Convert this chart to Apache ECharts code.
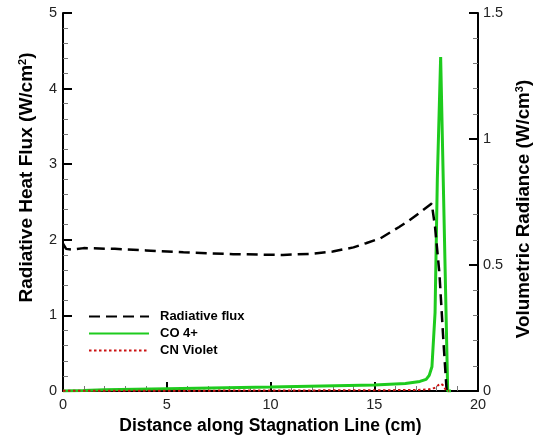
<!DOCTYPE html>
<html>
<head>
<meta charset="utf-8">
<script src="https://cdn.jsdelivr.net/npm/echarts@6/dist/echarts.min.js"></script>
<style>
  html, body { margin: 0; padding: 0; background: #fff; overflow: hidden; }
  #chart { width: 533px; height: 436px; }
</style>
</head>
<body>
<div id="chart"></div>
<script>
// Radiative heat flux along the stagnation line (left axis, W/cm^2)
const fluxX = [0, 0.15, 0.4, 1, 2.5, 4, 5.8, 8.2, 10.6, 12, 13, 14, 14.6, 15.3, 16.2, 16.6, 17.2, 17.77, 17.93, 18.14, 18.33, 18.49];
const fluxY = [1.95, 1.88, 1.87, 1.89, 1.88, 1.86, 1.835, 1.81, 1.80, 1.815, 1.845, 1.90, 1.955, 2.02, 2.17, 2.24, 2.36, 2.48, 2.17, 1.56, 0.675, 0.0];

// CO 4+ volumetric radiance (right axis, W/cm^3)
const coX = [0, 1, 2, 5, 10, 15, 16.5, 17.2, 17.5, 17.65, 17.78, 17.93, 18.04, 18.2, 18.54, 18.7];
const coY = [0, 0.002, 0.005, 0.009, 0.016, 0.024, 0.03, 0.038, 0.046, 0.062, 0.096, 0.31, 0.84, 1.325, 0, 0];

// CN Violet volumetric radiance (right axis, W/cm^3)
const cnX = [0, 5, 10, 15, 17, 17.6, 17.9, 18.1, 18.2, 18.3, 18.45, 18.6];
const cnY = [0.001, 0.001, 0.002, 0.003, 0.004, 0.006, 0.012, 0.024, 0.029, 0.024, 0.004, 0];

// Axis ranges and tick steps
const xRange = [0, 20], xStep = 5;
const fluxRange = [0, 5], fluxStep = 1;
const radRange = [0, 1.5], radStep = 0.5;

const pairs = (xs, ys) => xs.map((x, i) => [x, ys[i]]);

const FONT = 'Liberation Sans, Arial, sans-serif';
const tickLabel = { color: '#222', fontFamily: FONT, fontSize: 14.5 };
const majorTick = { show: true, inside: true, length: 9, lineStyle: { color: '#000', width: 2 } };
const minorTick = { show: true, splitNumber: 5, length: 5, lineStyle: { color: '#777', width: 1 } };
const axisLine = { show: true, onZero: false, lineStyle: { color: '#000', width: 2 } };
const titleFont = { color: '#000', fontFamily: FONT, fontWeight: 'bold' };
const supStyle = { fontSize: 11, fontWeight: 'bold', fontFamily: FONT, color: '#000', verticalAlign: 'top', padding: [0, 0, 9, 0] };

const chart = echarts.init(document.getElementById('chart'), null, { renderer: 'canvas' });
chart.setOption({
  animation: false,
  backgroundColor: '#fff',
  grid: { left: 63, right: 55, top: 13, bottom: 45, containLabel: false, outerBoundsMode: 'none' },
  legend: {
    left: 88, top: 310, orient: 'vertical', padding: 0,
    itemWidth: 60, itemHeight: 12, itemGap: 4,
    itemStyle: { opacity: 0 },
    textStyle: { color: '#000', fontFamily: FONT, fontWeight: 'bold', fontSize: 13, padding: [0, 0, 0, 6] },
    data: ['Radiative flux', 'CO 4+', 'CN Violet']
  },
  xAxis: {
    type: 'value', min: xRange[0], max: xRange[1], interval: xStep,
    name: 'Distance along Stagnation Line (cm)', nameLocation: 'middle', nameGap: 23,
    nameTextStyle: Object.assign({ fontSize: 17.5 }, titleFont),
    axisLine: axisLine, axisTick: majorTick, minorTick: minorTick,
    axisLabel: Object.assign({ margin: 6 }, tickLabel),
    splitLine: { show: false }
  },
  yAxis: [
    {
      type: 'value', min: fluxRange[0], max: fluxRange[1], interval: fluxStep, position: 'left',
      name: 'Radiative Heat Flux (W/cm{sup|2})', nameLocation: 'middle', nameRotate: 90, nameGap: 26,
      nameTextStyle: Object.assign({ fontSize: 19, padding: [0, 0, 0, 49], rich: { sup: supStyle } }, titleFont),
      axisLine: axisLine, axisTick: majorTick, minorTick: minorTick,
      axisLabel: Object.assign({ margin: 6 }, tickLabel),
      splitLine: { show: false }
    },
    {
      type: 'value', min: radRange[0], max: radRange[1], interval: radStep, position: 'right',
      name: 'Volumetric Radiance (W/cm{sup|3})', nameLocation: 'middle', nameRotate: 90, nameGap: 25,
      nameTextStyle: Object.assign({ fontSize: 18.8, padding: [0, 14, 0, 0], rich: { sup: supStyle } }, titleFont),
      axisLine: axisLine, axisTick: majorTick, minorTick: minorTick,
      axisLabel: Object.assign({ margin: 5 }, tickLabel),
      splitLine: { show: false }
    }
  ],
  series: [
    {
      name: 'Radiative flux', type: 'line', yAxisIndex: 0, symbol: 'none',
      data: pairs(fluxX, fluxY),
      itemStyle: { color: '#000' },
      lineStyle: { color: '#000', width: 2.5, type: [11, 6] },
      z: 3
    },
    {
      name: 'CO 4+', type: 'line', yAxisIndex: 1, symbol: 'none',
      data: pairs(coX, coY),
      itemStyle: { color: '#1ecb1e' },
      lineStyle: { color: '#1ecb1e', width: 3 },
      z: 2
    },
    {
      name: 'CN Violet', type: 'line', yAxisIndex: 1, symbol: 'none',
      data: pairs(cnX, cnY),
      itemStyle: { color: '#cc1111' },
      lineStyle: { color: '#cc1111', width: 2, type: [2.5, 2.5] },
      z: 4
    }
  ]
});
</script>
</body>
</html>
